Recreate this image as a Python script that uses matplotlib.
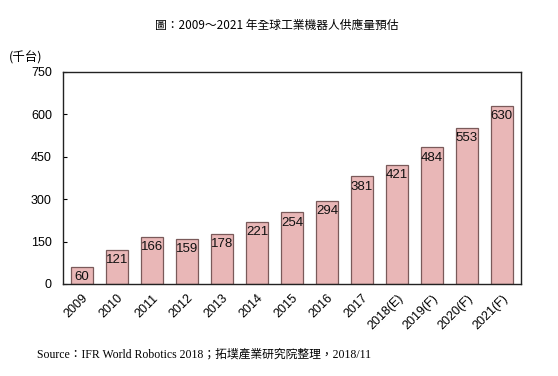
import matplotlib
matplotlib.use("Agg")
import matplotlib.pyplot as plt

years = ["2009", "2010", "2011", "2012", "2013", "2014", "2015", "2016", "2017",
         "2018(E)", "2019(F)", "2020(F)", "2021(F)"]
values = [60, 121, 166, 159, 178, 221, 254, 294, 381, 421, 484, 553, 630]
yticks = [0, 150, 300, 450, 600, 750]

plt.rcParams['font.family'] = ['Liberation Sans', 'Noto Sans CJK TC', 'DejaVu Sans']

fig = plt.figure(figsize=(5.58, 3.76), dpi=100)
W, H = 558, 376
ax = fig.add_axes([63 / W, 1 - 284 / H, (521 - 63) / W, (284 - 72) / H])

x = list(range(len(years)))
bars = ax.bar(x, values, width=0.62, color="#E9B7B7", edgecolor="#7a5a5a", linewidth=0.9)
for xi, v in zip(x, values):
    ax.annotate(str(v), (xi, v), xytext=(0, -7.5), textcoords="offset points",
                ha="center", va="center", fontsize=9.5, color="#111111")

ax.set_xlim(-0.55, len(years) - 0.45)
ax.set_ylim(0, 750)
ax.set_yticks(yticks)
ax.set_yticklabels([str(t) for t in yticks], fontsize=9)
ax.tick_params(axis="y", direction="in", length=3, pad=8)
ax.set_xticks(x)
ax.set_xticklabels(years, rotation=45, ha="right", rotation_mode="anchor", fontsize=9)
ax.tick_params(axis="x", length=0, pad=6)
for s in ax.spines.values():
    s.set_color("#222222")
    s.set_linewidth(1.0)

fig.text(277 / W, 1 - 25 / H, "圖：2009～2021 年全球工業機器人供應量預估",
         ha="center", va="center", fontsize=8.5,
         family=['Noto Sans CJK TC', 'DejaVu Sans'])
fig.text(9 / W, 1 - 58 / H, "(千台)", ha="left", va="center", fontsize=9,
         family=['Noto Sans CJK TC', 'DejaVu Sans'])
fig.text(37 / W, 1 - 355 / H, "Source：IFR World Robotics 2018；拓墣產業研究院整理，2018/11",
         ha="left", va="center", fontsize=8.5,
         family=['Liberation Serif', 'Noto Sans CJK TC', 'DejaVu Sans'])

fig.savefig("out.png", dpi=100)
